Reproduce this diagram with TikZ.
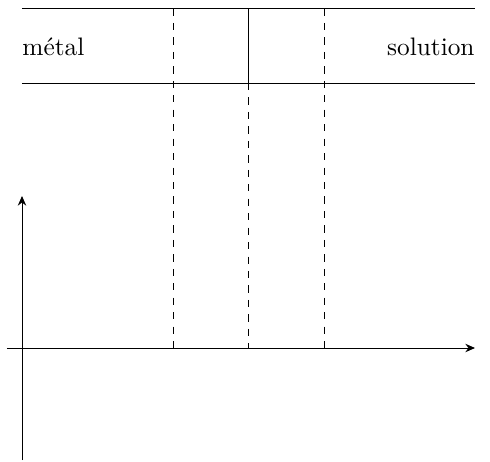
\documentclass[tikz,border=0pt]{standalone}
\usetikzlibrary{arrows.meta}
\begin{document}
\begin{tikzpicture}[x=0.415pt,y=-0.415pt,
  thinline/.style={line width=0.4pt},
  dashline/.style={line width=0.4pt,dashed},
  axis/.style={line width=0.4pt,-{Stealth[length=4pt,width=3.5pt]}},
  lbl/.style={inner sep=0pt,font=\fontsize{10.5}{12.6}\selectfont}]
\useasboundingbox (0,0) rectangle (490,461);
% horizontal lines of the interface band
\draw[thinline] (22,8.5) -- (475,8.5);
\draw[thinline] (22,83) -- (475,83);
% solid interface
\draw[thinline] (248,8.5) -- (248,83);
% dashed lines
\draw[dashline] (173,8.5) -- (173,348);
\draw[dashline] (248,83) -- (248,348);
\draw[dashline] (324,8.5) -- (324,348);
% labels
\node[lbl,anchor=base west] (metal) at (22,55) {métal};
\node[lbl,anchor=base east] (sol) at (475,55) {solution};
% axes
\coordinate (xs) at (7,348);
\coordinate (xe) at (475,348);
\coordinate (ys) at (22,460);
\coordinate (ye) at (22,196);
\draw[axis] (xs) -- (xe);
\draw[axis] (ys) -- (ye);
\end{tikzpicture}
\end{document}
